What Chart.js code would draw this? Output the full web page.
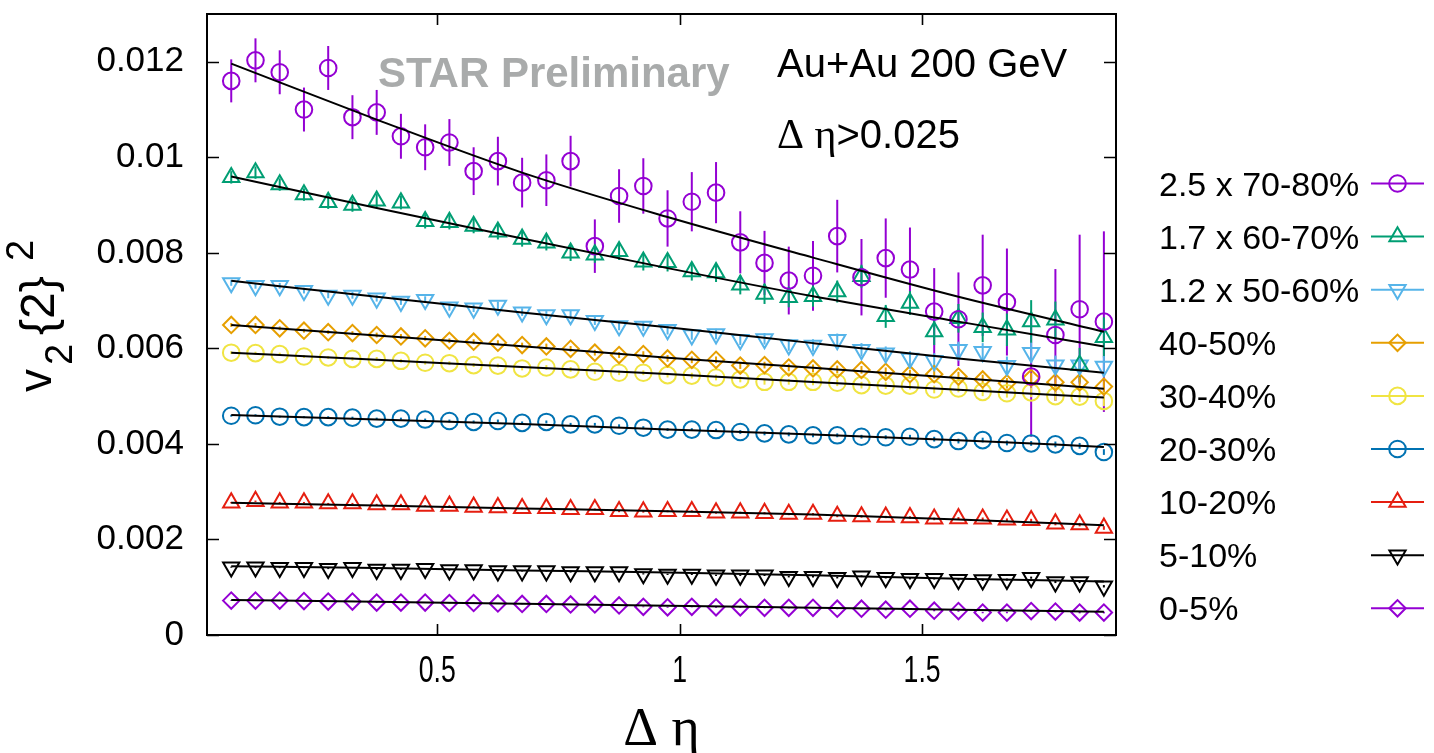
<!DOCTYPE html>
<html>
<head>
<meta charset="utf-8">
<title>v2{2}^2 vs Delta eta</title>
<script src="https://cdn.jsdelivr.net/npm/chart.js@4.4.1/dist/chart.umd.min.js"></script>
<style>
  html, body { margin: 0; padding: 0; background: #ffffff; }
  #wrap { width: 1434px; height: 753px; position: relative; }
</style>
</head>
<body>
<div id="wrap"><canvas id="c"></canvas></div>
<script>
// Delta-eta bin centres
const deltaEta = [0.075, 0.125, 0.175, 0.225, 0.275, 0.325, 0.375, 0.425, 0.475, 0.525,
                  0.575, 0.625, 0.675, 0.725, 0.775, 0.825, 0.875, 0.925, 0.975, 1.025,
                  1.075, 1.125, 1.175, 1.225, 1.275, 1.325, 1.375, 1.425, 1.475, 1.525,
                  1.575, 1.625, 1.675, 1.725, 1.775, 1.825, 1.875];

// Positions where the fitted curves are sampled
const fitAt = [0.075, 0.375, 0.675, 0.975, 1.275, 1.575, 1.875];

// Axis ticks
const xTickValues = [0.5, 1, 1.5];
const yTickValues = [0, 0.002, 0.004, 0.006, 0.008, 0.01, 0.012];

const labels = ['2.5 x 70-80%', '1.7 x 60-70%', '1.2 x 50-60%', '40-50%', '30-40%',
                '20-30%', '10-20%', '5-10%', '0-5%'];

// 2.5 x 70-80%
const v70 = [0.01160, 0.01203, 0.01178, 0.01100, 0.01187, 0.01084, 0.01094, 0.01044, 0.01021, 0.01031,
             0.00971, 0.00992, 0.00947, 0.00952, 0.00992, 0.00814, 0.00919, 0.00940, 0.00872, 0.00907,
             0.00926, 0.00822, 0.00779, 0.00742, 0.00752, 0.00835, 0.00749, 0.00789, 0.00765, 0.00677,
             0.00661, 0.00732, 0.00697, 0.00541, 0.00628, 0.00682, 0.00656];
const e70 = [0.00045, 0.00046, 0.00046, 0.00046, 0.00046, 0.00046, 0.00047, 0.00047, 0.00048, 0.00049,
             0.00050, 0.00051, 0.00052, 0.00054, 0.00053, 0.00056, 0.00056, 0.00058, 0.00059, 0.00062,
             0.00064, 0.00065, 0.00067, 0.00071, 0.00073, 0.00076, 0.00080, 0.00083, 0.00088, 0.00091,
             0.00098, 0.00106, 0.00112, 0.00126, 0.00138, 0.00156, 0.00189];
const f70 = [0.01196, 0.01079, 0.00968, 0.00875, 0.00790, 0.00708, 0.00635];

// 1.7 x 60-70%
const v60 = [0.00958, 0.00968, 0.00943, 0.00922, 0.00906, 0.00900, 0.00909, 0.00905, 0.00866, 0.00864,
             0.00856, 0.00844, 0.00829, 0.00821, 0.00800, 0.00796, 0.00803, 0.00781, 0.00780, 0.00761,
             0.00759, 0.00733, 0.00714, 0.00707, 0.00709, 0.00719, 0.00751, 0.00667, 0.00695, 0.00635,
             0.00663, 0.00644, 0.00639, 0.00656, 0.00660, 0.00565, 0.00623];
const e60 = [0.00013, 0.00013, 0.00013, 0.00013, 0.00014, 0.00014, 0.00014, 0.00014, 0.00015, 0.00015,
             0.00015, 0.00016, 0.00016, 0.00016, 0.00017, 0.00017, 0.00018, 0.00018, 0.00019, 0.00019,
             0.00020, 0.00020, 0.00021, 0.00021, 0.00022, 0.00023, 0.00024, 0.00024, 0.00025, 0.00028,
             0.00030, 0.00031, 0.00034, 0.00045, 0.00038, 0.00036, 0.00042];
const f60 = [0.00960, 0.00894, 0.00830, 0.00768, 0.00709, 0.00656, 0.00604];

// 1.2 x 50-60%
const v50 = [0.00737, 0.00731, 0.00731, 0.00721, 0.00711, 0.00711, 0.00705, 0.00698, 0.00702, 0.00686,
             0.00684, 0.00690, 0.00676, 0.00670, 0.00670, 0.00658, 0.00647, 0.00646, 0.00639, 0.00628,
             0.00630, 0.00618, 0.00620, 0.00607, 0.00606, 0.00618, 0.00597, 0.00590, 0.00579, 0.00574,
             0.00597, 0.00593, 0.00564, 0.00591, 0.00565, 0.00565, 0.00562];
const e50 = [0.00006, 0.00006, 0.00006, 0.00006, 0.00006, 0.00007, 0.00007, 0.00007, 0.00007, 0.00007,
             0.00008, 0.00008, 0.00008, 0.00008, 0.00009, 0.00009, 0.00009, 0.00010, 0.00010, 0.00010,
             0.00011, 0.00011, 0.00012, 0.00012, 0.00013, 0.00013, 0.00014, 0.00014, 0.00015, 0.00016,
             0.00017, 0.00018, 0.00019, 0.00021, 0.00020, 0.00021, 0.00022];
const f50 = [0.007415, 0.00708, 0.00675, 0.00644, 0.00611, 0.00579, 0.00549];

// 40-50%
const v40 = [0.00649, 0.00649, 0.00642, 0.00637, 0.00634, 0.00632, 0.00628, 0.00625, 0.00621, 0.00616,
             0.00614, 0.00612, 0.00607, 0.00604, 0.00599, 0.00591, 0.00586, 0.00588, 0.00579, 0.00576,
             0.00576, 0.00564, 0.00565, 0.00560, 0.00558, 0.00556, 0.00555, 0.00551, 0.00546, 0.00546,
             0.00541, 0.00535, 0.00527, 0.00538, 0.00529, 0.00529, 0.00520];
const e40 = [0.00004, 0.00004, 0.00004, 0.00004, 0.00004, 0.00004, 0.00005, 0.00005, 0.00005, 0.00005,
             0.00005, 0.00005, 0.00005, 0.00006, 0.00006, 0.00006, 0.00006, 0.00006, 0.00007, 0.00007,
             0.00007, 0.00007, 0.00007, 0.00008, 0.00008, 0.00008, 0.00008, 0.00009, 0.00009, 0.00009,
             0.00010, 0.00010, 0.00011, 0.00011, 0.00012, 0.00012, 0.00013];
const f40 = [0.006492, 0.00627, 0.006045, 0.005806, 0.005594, 0.00538, 0.005157];

// 30-40%
const v30 = [0.00591, 0.00590, 0.00588, 0.00583, 0.00581, 0.00578, 0.00578, 0.00574, 0.00570, 0.00569,
             0.00565, 0.00564, 0.00558, 0.00560, 0.00556, 0.00551, 0.00549, 0.00549, 0.00544, 0.00543,
             0.00539, 0.00535, 0.00530, 0.00530, 0.00530, 0.00528, 0.00523, 0.00522, 0.00522, 0.00514,
             0.00516, 0.00509, 0.00506, 0.00508, 0.00500, 0.00499, 0.00490];
const e30 = [0.00003, 0.00003, 0.00003, 0.00003, 0.00003, 0.00004, 0.00004, 0.00004, 0.00004, 0.00004,
             0.00004, 0.00004, 0.00004, 0.00005, 0.00005, 0.00005, 0.00005, 0.00005, 0.00005, 0.00006,
             0.00006, 0.00006, 0.00006, 0.00006, 0.00007, 0.00007, 0.00007, 0.00007, 0.00008, 0.00008,
             0.00008, 0.00009, 0.00009, 0.00010, 0.00010, 0.00011, 0.00011];
const f30 = [0.005911, 0.005761, 0.00561, 0.005463, 0.005298, 0.005132, 0.00497];

// 20-30%
const v20 = [0.00459, 0.00460, 0.00457, 0.00456, 0.00456, 0.00455, 0.00453, 0.00453, 0.00451, 0.00448,
             0.00446, 0.00448, 0.00444, 0.00446, 0.00441, 0.00441, 0.00438, 0.00434, 0.00430, 0.00430,
             0.00429, 0.00425, 0.00422, 0.00420, 0.00418, 0.00418, 0.00415, 0.00414, 0.00415, 0.00410,
             0.00406, 0.00408, 0.00402, 0.00401, 0.00399, 0.00396, 0.00383];
const e20 = [0.00002, 0.00002, 0.00002, 0.00002, 0.00002, 0.00002, 0.00002, 0.00002, 0.00002, 0.00003,
             0.00003, 0.00003, 0.00003, 0.00003, 0.00003, 0.00003, 0.00003, 0.00003, 0.00003, 0.00003,
             0.00003, 0.00004, 0.00004, 0.00004, 0.00004, 0.00004, 0.00004, 0.00004, 0.00004, 0.00005,
             0.00005, 0.00005, 0.00005, 0.00005, 0.00006, 0.00006, 0.00006];
const f20 = [0.004603, 0.004513, 0.004418, 0.004303, 0.004198, 0.004078, 0.003938];

// 10-20%
const v10 = [0.00277, 0.00280, 0.00277, 0.00277, 0.00275, 0.00275, 0.00273, 0.00273, 0.00270, 0.00270,
             0.00268, 0.00267, 0.00265, 0.00265, 0.00263, 0.00263, 0.00259, 0.00258, 0.00259, 0.00259,
             0.00256, 0.00256, 0.00255, 0.00253, 0.00253, 0.00249, 0.00248, 0.00247, 0.00246, 0.00243,
             0.00244, 0.00243, 0.00241, 0.00240, 0.00233, 0.00231, 0.00224];
const e10 = [0.000015, 0.000015, 0.000015, 0.000015, 0.000015, 0.000015, 0.000015, 0.000016, 0.000016, 0.000016,
             0.000017, 0.000017, 0.000017, 0.000018, 0.000018, 0.000018, 0.000019, 0.000019, 0.000020, 0.000020,
             0.000021, 0.000021, 0.000022, 0.000022, 0.000023, 0.000024, 0.000024, 0.000025, 0.000026, 0.000027,
             0.000028, 0.000029, 0.000030, 0.000032, 0.000034, 0.000036, 0.000038];
const f10 = [0.00277, 0.00271, 0.00265, 0.00259, 0.00252, 0.00242, 0.00230];

// 5-10%
const v5 = [0.00142, 0.00142, 0.00141, 0.00141, 0.00139, 0.00141, 0.00137, 0.00137, 0.00139, 0.00136,
            0.00136, 0.00134, 0.00134, 0.00134, 0.00132, 0.00132, 0.00132, 0.00128, 0.00127, 0.00127,
            0.00125, 0.00125, 0.00125, 0.00122, 0.00122, 0.00120, 0.00123, 0.00120, 0.00118, 0.00118,
            0.00116, 0.00115, 0.00116, 0.00120, 0.00111, 0.00111, 0.00102];
const e5 = [0.000010, 0.000010, 0.000010, 0.000010, 0.000010, 0.000010, 0.000010, 0.000011, 0.000011, 0.000011,
            0.000011, 0.000011, 0.000012, 0.000012, 0.000012, 0.000012, 0.000013, 0.000013, 0.000013, 0.000014,
            0.000014, 0.000014, 0.000015, 0.000015, 0.000016, 0.000016, 0.000017, 0.000017, 0.000018, 0.000018,
            0.000019, 0.000020, 0.000021, 0.000022, 0.000023, 0.000024, 0.000025];
const f5 = [0.00144, 0.00140, 0.00135, 0.00131, 0.00125, 0.00118, 0.00112];

// 0-5%
const v0 = [0.00072, 0.00072, 0.00072, 0.00071, 0.00070, 0.00070, 0.00068, 0.00068, 0.00068, 0.00067,
            0.00067, 0.00066, 0.00065, 0.00065, 0.00064, 0.00064, 0.00062, 0.00059, 0.00058, 0.00059,
            0.00058, 0.00058, 0.00057, 0.00057, 0.00057, 0.00055, 0.00055, 0.00053, 0.00055, 0.00051,
            0.00050, 0.00047, 0.00047, 0.00050, 0.00049, 0.00047, 0.00047];
const e0 = [0.000008, 0.000008, 0.000008, 0.000008, 0.000008, 0.000008, 0.000008, 0.000008, 0.000009, 0.000009,
            0.000009, 0.000009, 0.000009, 0.000009, 0.000010, 0.000010, 0.000010, 0.000010, 0.000010, 0.000011,
            0.000011, 0.000011, 0.000011, 0.000012, 0.000012, 0.000012, 0.000013, 0.000013, 0.000013, 0.000014,
            0.000014, 0.000015, 0.000015, 0.000016, 0.000016, 0.000017, 0.000018];
const f0 = [0.000735, 0.000695, 0.000655, 0.000612, 0.000572, 0.00053, 0.000489];

const values = [v70, v60, v50, v40, v30, v20, v10, v5, v0];
const errors = [e70, e60, e50, e40, e30, e20, e10, e5, e0];
const fits = [f70, f60, f50, f40, f30, f20, f10, f5, f0];

const colors = ['#9400d3', '#009e73', '#56b4e9', '#e69f00', '#f0e442', '#0072b2', '#e51e10', '#000000', '#9400d3'];
const shapes = ['circle', 'up', 'down', 'diamond', 'circle', 'circle', 'up', 'down', 'diamond'];

const SANS = '"Liberation Sans", Arial, Helvetica, sans-serif';
const SERIF = '"Liberation Serif", "Times New Roman", serif';

function styleOf(shape) {
  if (shape === 'circle') return { pointStyle: 'circle', rotation: 0, radius: 8.3 };
  if (shape === 'up') return { pointStyle: 'triangle', rotation: 0, radius: 9.4 };
  if (shape === 'down') return { pointStyle: 'triangle', rotation: 180, radius: 9.4 };
  return { pointStyle: 'rectRot', rotation: 0, radius: 8.2 };
}

const datasets = [];
values.forEach((vals, k) => {
  const st = styleOf(shapes[k]);
  datasets.push({
    type: 'scatter',
    label: labels[k],
    data: deltaEta.map((x, j) => ({ x: x, y: vals[j] })),
    errs: errors[k],
    borderColor: colors[k],
    backgroundColor: 'rgba(0,0,0,0)',
    pointStyle: st.pointStyle,
    rotation: st.rotation,
    pointRadius: st.radius,
    pointBorderWidth: 2,
    showLine: false,
    order: 2
  });
});
fits.forEach((f, k) => {
  datasets.push({
    type: 'line',
    label: 'fit ' + labels[k],
    data: fitAt.map((x, j) => ({ x: x, y: f[j] })),
    borderColor: '#000000',
    borderWidth: 2,
    pointRadius: 0,
    fill: false,
    cubicInterpolationMode: 'monotone',
    order: 1
  });
});

// Vertical error bars, drawn beneath the open markers
const errorBars = {
  id: 'errorBars',
  beforeDatasetsDraw(chart) {
    const ctx = chart.ctx, ys = chart.scales.y, a = chart.chartArea;
    ctx.save();
    ctx.beginPath();
    ctx.rect(a.left, a.top, a.right - a.left, a.bottom - a.top);
    ctx.clip();
    chart.data.datasets.forEach((ds, i) => {
      if (!ds.errs) return;
      const meta = chart.getDatasetMeta(i);
      ctx.strokeStyle = ds.borderColor;
      ctx.lineWidth = 2;
      meta.data.forEach((pt, j) => {
        const v = ds.data[j].y, e = ds.errs[j];
        ctx.beginPath();
        ctx.moveTo(pt.x, ys.getPixelForValue(v - e));
        ctx.lineTo(pt.x, ys.getPixelForValue(v + e) - 0.01);
        ctx.stroke();
      });
    });
    ctx.restore();
  }
};

// Plot frame with inward tick marks on all four sides, x tick labels
const frame = {
  id: 'frame',
  afterDatasetsDraw(chart) {
    const ctx = chart.ctx, a = chart.chartArea;
    const xs = chart.scales.x, ys = chart.scales.y;
    ctx.save();
    ctx.strokeStyle = '#000';
    ctx.lineWidth = 2;
    ctx.strokeRect(a.left, a.top, a.right - a.left, a.bottom - a.top);
    ctx.lineWidth = 1.6;
    ctx.beginPath();
    xs.ticks.forEach(t => {
      const px = Math.round(xs.getPixelForValue(t.value)) + 0.5;
      ctx.moveTo(px, a.bottom); ctx.lineTo(px, a.bottom - 11);
      ctx.moveTo(px, a.top); ctx.lineTo(px, a.top + 11);
    });
    ys.ticks.forEach(t => {
      const py = Math.round(ys.getPixelForValue(t.value)) + 0.5;
      ctx.moveTo(a.left, py); ctx.lineTo(a.left + 12, py);
      ctx.moveTo(a.right, py); ctx.lineTo(a.right - 12, py);
    });
    ctx.stroke();

    // x tick labels, narrow face
    ctx.fillStyle = '#000';
    ctx.font = '36px ' + SANS;
    ctx.textAlign = 'center';
    ctx.textBaseline = 'alphabetic';
    xs.ticks.forEach(t => {
      const px = xs.getPixelForValue(t.value);
      ctx.save();
      ctx.translate(px, a.bottom + 47);
      ctx.scale(0.74, 1);
      ctx.fillText(t.label, 0, 0);
      ctx.restore();
    });
    ctx.restore();
  }
};

function drawMarker(ctx, shape, x, y) {
  const st = styleOf(shape);
  const r = st.radius;
  ctx.beginPath();
  if (shape === 'circle') {
    ctx.arc(x, y, r, 0, Math.PI * 2);
  } else if (shape === 'up' || shape === 'down') {
    const s = shape === 'up' ? 1 : -1;
    ctx.moveTo(x, y - s * r);
    ctx.lineTo(x + r * Math.sqrt(3) / 2, y + s * r / 2);
    ctx.lineTo(x - r * Math.sqrt(3) / 2, y + s * r / 2);
  } else {
    ctx.moveTo(x - r, y); ctx.lineTo(x, y - r); ctx.lineTo(x + r, y); ctx.lineTo(x, y + r);
  }
  ctx.closePath();
  ctx.stroke();
}

// Titles, annotations and the key on the right
const texts = {
  id: 'texts',
  afterDraw(chart) {
    const ctx = chart.ctx, a = chart.chartArea;
    ctx.save();
    ctx.fillStyle = '#000';
    ctx.textBaseline = 'alphabetic';
    ctx.textAlign = 'left';

    // x-axis title
    ctx.font = '54px ' + SERIF;
    ctx.textAlign = 'center';
    ctx.fillText('\u0394 \u03b7', (a.left + a.right) / 2, 745);
    ctx.textAlign = 'left';

    // y-axis title v_2{2}^2, read bottom to top
    const piece = (txt, font, bx, by) => {
      ctx.save();
      ctx.font = font;
      ctx.translate(bx, by);
      ctx.rotate(-Math.PI / 2);
      ctx.fillText(txt, 0, 0);
      ctx.restore();
    };
    piece('v', '46px ' + SANS, 51, 392);
    piece('2', '38px ' + SANS, 72, 365);
    piece('{2}', '48px ' + SANS, 54, 335);
    piece('2', '38px ' + SANS, 33, 261);

    // annotations
    ctx.font = 'bold 42px ' + SANS;
    ctx.fillStyle = '#a9abab';
    ctx.fillText('STAR Preliminary', 378, 87);
    ctx.fillStyle = '#000';
    ctx.font = '40px ' + SANS;
    ctx.fillText('Au+Au 200 GeV', 777, 77);
    ctx.font = '42px ' + SERIF;
    ctx.fillText('\u0394 \u03b7', 777, 148);
    const w = ctx.measureText('\u0394 \u03b7').width;
    ctx.font = '40px ' + SANS;
    ctx.fillText('>0.025', 777 + w, 148);

    // key
    const x0 = 1159, lx1 = 1371, lx2 = 1424, top = 183.5, step = 53.1;
    ctx.font = '34px ' + SANS;
    labels.forEach((lab, k) => {
      const y = top + k * step;
      ctx.fillStyle = '#000';
      ctx.fillText(lab, x0, y + 12);
      ctx.strokeStyle = colors[k];
      ctx.lineWidth = 2;
      ctx.beginPath();
      ctx.moveTo(lx1, y); ctx.lineTo(lx2, y);
      ctx.stroke();
      ctx.lineWidth = 2;
      drawMarker(ctx, shapes[k], (lx1 + lx2) / 2, y);
    });
    ctx.restore();
  }
};

new Chart(document.getElementById('c'), {
  data: { datasets: datasets },
  options: {
    responsive: true,
    maintainAspectRatio: false,
    animation: false,
    events: [],
    layout: { padding: { top: 14, right: 318, left: 0, bottom: 0 } },
    plugins: { legend: { display: false }, tooltip: { enabled: false } },
    scales: {
      x: {
        type: 'linear',
        min: 0.025,
        max: 1.9,
        afterFit(s) { s.height = 118; s.paddingLeft = 0; s.paddingRight = 0; },
        afterBuildTicks(s) { s.ticks = xTickValues.map(v => ({ value: v })); },
        grid: { display: false, drawTicks: false },
        border: { display: false },
        ticks: { display: false, callback: v => String(v) }
      },
      y: {
        type: 'linear',
        min: 0,
        max: 0.013,
        afterFit(s) { s.width = 207; s.paddingTop = 0; s.paddingBottom = 0; },
        afterBuildTicks(s) { s.ticks = yTickValues.map(v => ({ value: v })); },
        grid: { display: false, drawTicks: false },
        border: { display: false },
        ticks: {
          color: '#000',
          padding: 23,
          font: { family: SANS, size: 35 },
          callback: v => String(Number(v.toFixed(3)))
        }
      }
    }
  },
  plugins: [errorBars, frame, texts]
});
</script>
</body>
</html>
